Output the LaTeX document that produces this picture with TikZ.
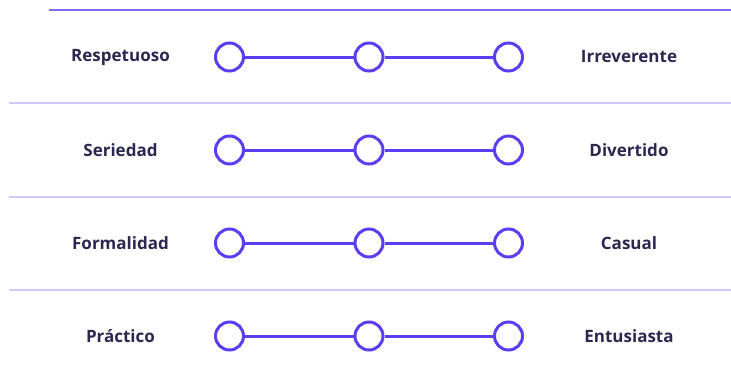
\documentclass[tikz,border=0pt]{standalone}
\usepackage{fontspec}
\setmainfont{Open Sans}
\begin{document}
\begin{tikzpicture}[x=1pt,y=-1pt,
  knob/.style={circle,draw=knobc,line width=3pt,fill=white,minimum size=28pt,inner sep=0pt},
  bar/.style={draw=knobc,line width=3pt},
  lbl/.style={font=\fontsize{17}{20}\selectfont\bfseries,text=textc,anchor=center},
  sep/.style={draw=sepc,line width=1.6pt},
  topline/.style={draw=topc,line width=1.2pt}]
\definecolor{knobc}{HTML}{5B3DF2}
\definecolor{textc}{HTML}{2B2750}
\definecolor{sepc}{HTML}{CFC8FA}
\definecolor{topc}{HTML}{7B6BF5}
\useasboundingbox (0,0) rectangle (731,378);
\coordinate (t0) at (49,10);
\coordinate (t1) at (731,10);
\draw[topline] (t0) -- (t1);
\foreach \i/\y in {1/103,2/197,3/290}{
  \coordinate (s\i a) at (9,\y);
  \coordinate (s\i b) at (731,\y);
  \draw[sep] (s\i a) -- (s\i b);
}
\foreach \i/\y/\l/\r in {1/57/Respetuoso/Irreverente,2/150/Seriedad/Divertido,3/243/Formalidad/Casual,4/336/Práctico/Entusiasta}{
  \node[lbl] (L\i) at (120.5,\y) {\l};
  \node[lbl] (R\i) at (629,\y) {\r};
  \node[knob] (a\i) at (229.5,\y) {};
  \node[knob] (b\i) at (369,\y) {};
  \node[knob] (c\i) at (508.5,\y) {};
  \draw[bar] (a\i) -- (b\i);
  \draw[bar] (b\i) -- (c\i);
}
\end{tikzpicture}
\end{document}
